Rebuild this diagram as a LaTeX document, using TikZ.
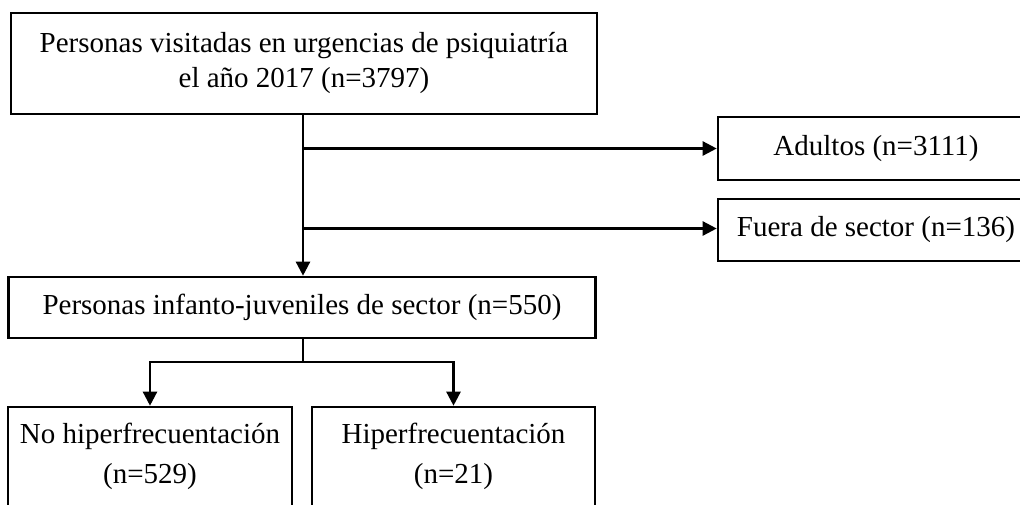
\documentclass[tikz,border=0pt]{standalone}
\usepackage{fontspec}
\setmainfont{Liberation Serif}
\usetikzlibrary{arrows.meta}
\begin{document}
\begin{tikzpicture}[x=1pt,y=-1pt,
  box/.style={draw, line width=2.6pt, inner sep=0pt, align=center, font=\fontsize{29}{35}\selectfont},
  conn/.style={line width=2.4pt},
  arr/.style={line width=2.4pt, -{Triangle[length=14pt,width=14pt]}}]
\fill[white] (0,0) rectangle (1020,504);
\useasboundingbox (0,0) rectangle (1020,504);
\node[box, minimum width=586pt, minimum height=101pt] (top) at (304,63.5) {Personas visitadas en urgencias de psiquiatría\\el año 2017 (n=3797)};
\node[box, minimum width=316pt, minimum height=63pt] (ad) at (876,148.5) {Adultos (n=3111)};
\node[box, minimum width=316pt, minimum height=62pt] (fu) at (876,230) {Fuera de sector (n=136)};
\node[box, minimum width=587pt, minimum height=61pt] (mid) at (302,307.5) {Personas infanto-juveniles de sector (n=550)};
\node[box, minimum width=284pt, minimum height=99pt, font=\fontsize{29}{40}\selectfont] (bl) at (150,456.5) {No hiperfrecuentación\\(n=529)};
\node[box, minimum width=283pt, minimum height=99pt, font=\fontsize{29}{40}\selectfont] (br) at (453.5,456.5) {Hiperfrecuentación\\(n=21)};
\coordinate (j1) at (303,148.5);
\coordinate (j2) at (303,228.5);
\coordinate (j3) at (303,362);
\draw[arr] (top.south -| j1) -- (mid.north -| j1);
\draw[arr] (j1) -- (j1 -| ad.west);
\draw[arr] (j2) -- (j2 -| fu.west);
\draw[conn] (mid.south -| j3) -- (j3);
\draw[arr] (j3) -| (bl.north);
\draw[arr] (j3) -| (br.north);
\end{tikzpicture}
\end{document}
